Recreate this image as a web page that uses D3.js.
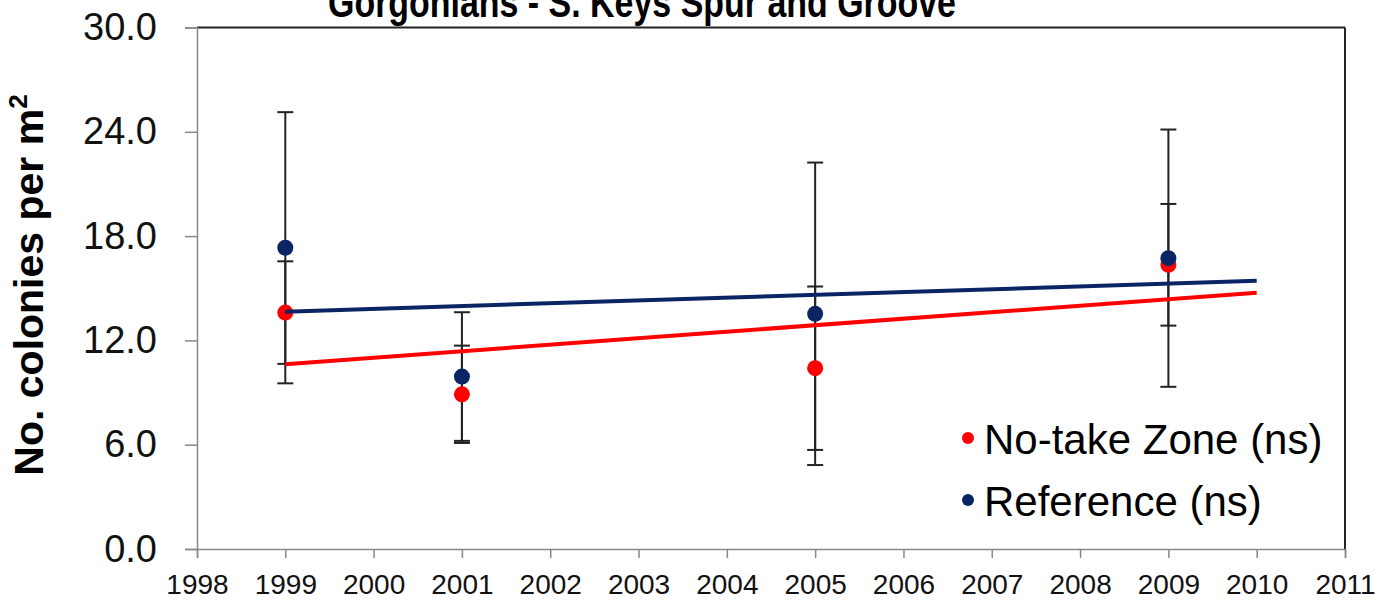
<!DOCTYPE html>
<html><head><meta charset="utf-8">
<script src="https://cdn.jsdelivr.net/npm/d3@7"></script>
<style>
html,body{margin:0;padding:0;background:#fff;}
svg{display:block;font-family:Arial,"Liberation Sans",sans-serif;}
</style></head>
<body>
<svg id="chart" width="1383" height="613"></svg>
<script>
const title = "Gorgonians - S. Keys Spur and Groove";
const years = [1999, 2001, 2005, 2009];
const noTake = [13.6, 8.9, 10.4, 16.35];
const noTakeErr = [2.95, 2.8, 4.7, 3.5];
const reference = [17.33, 9.92, 13.53, 16.73];
const referenceErr = [7.8, 3.7, 8.7, 7.4];
const yTicks = [0, 6, 12, 18, 24, 30];
const xTicks = d3.range(1998, 2012);
const trendRange = [1999, 2010];
const legendLabels = ["No-take Zone (ns)", "Reference (ns)"];
const colors = ["#ff0000", "#0a2564"];

const svg = d3.select("#chart");
const L = 197, R = 1345, T = 27.5, B = 549;
const x = d3.scaleLinear().domain([1998, 2011]).range([L, R]);
const y = d3.scaleLinear().domain([0, 30]).range([B, T]);

// frame top & right
svg.append("line").attr("x1", L).attr("x2", R).attr("y1", T).attr("y2", T).attr("stroke", "#222").attr("stroke-width", 2);
svg.append("line").attr("x1", R).attr("x2", R).attr("y1", T).attr("y2", B).attr("stroke", "#222").attr("stroke-width", 2);

// y axis
const yAxis = d3.axisLeft(y).tickValues(yTicks).tickFormat(d3.format(".1f")).tickSize(12).tickPadding(28);
const gy = svg.append("g").attr("transform", `translate(${L},0)`).call(yAxis);
gy.select(".domain").attr("stroke", "#888").attr("stroke-width", 1.5);
gy.selectAll(".tick line").attr("stroke", "#888").attr("stroke-width", 1.5);
gy.selectAll(".tick text").attr("font-size", 38).attr("fill", "#111")
  .attr("font-family", "Arial, 'Liberation Sans', sans-serif");

// x axis
const xAxis = d3.axisBottom(x).tickValues(xTicks).tickFormat(d3.format("d")).tickSize(9).tickPadding(16);
const gx = svg.append("g").attr("transform", `translate(0,${B})`).call(xAxis);
gx.select(".domain").attr("stroke", "#888").attr("stroke-width", 1.5);
gx.selectAll(".tick line").attr("stroke", "#888").attr("stroke-width", 1.5);
gx.selectAll(".tick text").attr("font-size", 28).attr("fill", "#111")
  .attr("font-family", "Arial, 'Liberation Sans', sans-serif");

// error bars
const series = [
  {vals: noTake, errs: noTakeErr, color: colors[0]},
  {vals: reference, errs: referenceErr, color: colors[1]}
];
const eb = svg.append("g");
series.forEach(s => {
  years.forEach((yr, i) => {
    const cx = x(yr), lo = y(s.vals[i] - s.errs[i]), hi = y(s.vals[i] + s.errs[i]);
    eb.append("line").attr("x1", cx).attr("x2", cx).attr("y1", lo).attr("y2", hi).attr("stroke", "#222").attr("stroke-width", 2);
    [lo, hi].forEach(v => eb.append("line").attr("x1", cx - 8).attr("x2", cx + 8).attr("y1", v).attr("y2", v).attr("stroke", "#222").attr("stroke-width", 2));
  });
});

// dots
series.forEach(s => {
  svg.append("g").selectAll("circle").data(years).join("circle")
    .attr("cx", d => x(d)).attr("cy", (d, i) => y(s.vals[i])).attr("r", 8).attr("fill", s.color);
});

// trend lines (least squares)
function fit(xs, ys) {
  const mx = d3.mean(xs), my = d3.mean(ys);
  const sxy = d3.sum(xs, (v, i) => (v - mx) * (ys[i] - my));
  const sxx = d3.sum(xs, v => (v - mx) ** 2);
  const b = sxy / sxx;
  return v => my + b * (v - mx);
}
series.forEach(s => {
  const f = fit(years, s.vals);
  svg.append("line").attr("x1", x(trendRange[0])).attr("x2", x(trendRange[1]))
    .attr("y1", y(f(trendRange[0]))).attr("y2", y(f(trendRange[1])))
    .attr("stroke", s.color).attr("stroke-width", 4);
});

// title (cut at top edge as in the reference)
svg.append("text").attr("x", 642).attr("y", 17).attr("text-anchor", "middle")
  .attr("font-size", 43).attr("font-weight", "bold").attr("fill", "#000")
  .attr("textLength", 628).attr("lengthAdjust", "spacingAndGlyphs").text(title);

// y label
svg.append("text").attr("transform", "translate(43,285) rotate(-90)").attr("text-anchor", "middle")
  .attr("font-size", 41).attr("font-weight", "bold").attr("fill", "#000")
  .call(t => { t.append("tspan").text("No. colonies per m"); t.append("tspan").attr("dy", -16).attr("font-size", 26).text("2"); });

// legend
const lg = svg.append("g");
legendLabels.forEach((lab, i) => {
  const yy = 438 + i * 62;
  lg.append("circle").attr("cx", 968).attr("cy", yy).attr("r", 6).attr("fill", colors[i]);
  lg.append("text").attr("x", 984).attr("y", yy + 16).attr("font-size", 42).attr("fill", "#000").text(lab);
});
</script>
</body></html>
